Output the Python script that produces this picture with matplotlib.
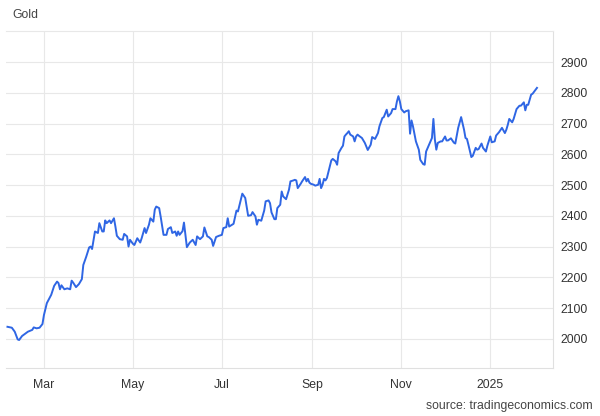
import numpy as np
import matplotlib
matplotlib.use("Agg")
import matplotlib.pyplot as plt

plt.rcParams['font.family'] = ['Liberation Sans', 'DejaVu Sans']

title = "Gold"
source = "source: tradingeconomics.com"
start_date = np.datetime64('2024-03-01')

# days relative to 2024-03-01
day_offsets = [
    -25, -22, -20, -18, -17, -15, -11, -8, -7, -5, -3, -1, 0, 2, 5, 7, 9, 10, 11, 12,
    14, 16, 18, 19, 20, 22, 24, 26, 27, 29, 31, 32, 33, 35, 37, 38, 40, 41, 42, 43,
    45, 46, 48, 49, 50, 52, 54, 55, 57, 58, 59, 61, 62, 64, 66, 67, 69, 70, 72, 73,
    75, 76, 77, 79, 80, 82, 84, 85, 87, 88, 90, 91, 92, 93, 95, 96, 98, 100, 102, 104,
    105, 107, 109, 110, 112, 113, 115, 116, 118, 120, 122, 123, 125, 126, 127, 130, 132, 133, 134, 136,
    138, 139, 140, 142, 143, 145, 146, 147, 149, 151, 152, 154, 155, 156, 158, 159, 160, 162, 163, 164,
    166, 168, 169, 171, 172, 173, 174, 176, 177, 179, 180, 181, 182, 183, 185, 186, 188, 189, 190, 191,
    192, 193, 194, 196, 197, 198, 200, 201, 202, 204, 205, 206, 207, 208, 209, 210, 212, 213, 214, 215,
    216, 218, 220, 222, 224, 225, 227, 229, 230, 232, 233, 235, 236, 238, 239, 241, 242, 243, 244, 245,
    247, 248, 250, 251, 252, 253, 255, 257, 258, 260, 261, 262, 264, 266, 267, 268, 269, 270, 272, 273,
    275, 276, 277, 279, 281, 282, 284, 286, 288, 289, 290, 291, 293, 294, 296, 297, 298, 300, 301, 303,
    304, 306, 307, 309, 310, 312, 314, 316, 317, 318, 319, 321, 322, 324, 326, 327, 329, 330, 331, 332,
    334, 335, 337, 338,
]

prices = [
    2039, 2036, 2023, 1998, 1996, 2009, 2023, 2029, 2037, 2034, 2036, 2048, 2077, 2116, 2143, 2172, 2186, 2181, 2161, 2174,
    2161, 2164, 2161, 2189, 2183, 2168, 2178, 2194, 2240, 2267, 2297, 2300, 2292, 2349, 2344, 2376, 2349, 2349, 2385, 2376,
    2385, 2376, 2392, 2365, 2335, 2324, 2322, 2341, 2333, 2300, 2322, 2309, 2305, 2327, 2313, 2327, 2360, 2344, 2371, 2392,
    2381, 2420, 2430, 2425, 2398, 2338, 2338, 2357, 2363, 2344, 2349, 2335, 2349, 2338, 2350, 2378, 2298, 2313, 2322, 2305,
    2333, 2324, 2333, 2362, 2333, 2331, 2322, 2302, 2331, 2335, 2338, 2360, 2363, 2392, 2365, 2374, 2417, 2414, 2433, 2472,
    2458, 2430, 2400, 2402, 2412, 2398, 2371, 2387, 2384, 2417, 2447, 2450, 2441, 2411, 2389, 2389, 2425, 2436, 2479, 2463,
    2454, 2485, 2512, 2515, 2517, 2515, 2490, 2504, 2512, 2526, 2512, 2520, 2508, 2504, 2501, 2498, 2501, 2520, 2490, 2501,
    2520, 2515, 2523, 2561, 2580, 2585, 2577, 2566, 2604, 2621, 2628, 2658, 2664, 2669, 2675, 2664, 2658, 2642, 2658, 2664,
    2660, 2653, 2637, 2614, 2631, 2656, 2650, 2669, 2691, 2718, 2721, 2745, 2723, 2734, 2747, 2747, 2772, 2789, 2772, 2747,
    2736, 2740, 2743, 2667, 2710, 2691, 2642, 2615, 2582, 2568, 2566, 2609, 2631, 2653, 2715, 2648, 2615, 2637, 2642, 2642,
    2658, 2645, 2645, 2652, 2638, 2635, 2686, 2721, 2680, 2653, 2650, 2631, 2591, 2595, 2621, 2615, 2617, 2635, 2621, 2609,
    2628, 2658, 2639, 2642, 2661, 2672, 2686, 2669, 2680, 2696, 2715, 2704, 2715, 2747, 2758, 2758, 2769, 2743, 2761, 2761,
    2794, 2797, 2810, 2816,
]

tick_dates = ['2024-03-01', '2024-05-01', '2024-07-01', '2024-09-01', '2024-11-01', '2025-01-01']
tick_labels = ['Mar', 'May', 'Jul', 'Sep', 'Nov', '2025']
y_ticks = [2000, 2100, 2200, 2300, 2400, 2500, 2600, 2700, 2800, 2900]

dates = start_date + np.array(day_offsets).astype('timedelta64[D]')

fig = plt.figure(figsize=(6.0, 4.16), dpi=100)
ax = fig.add_axes([0.01, 0.1154, 0.9117, 0.8101])

ax.plot(dates, prices, color='#2f66e4', linewidth=1.4, solid_joinstyle='round', zorder=3)

ax.set_ylim(1905, 3001)
ax.set_xlim(np.datetime64('2024-02-04'), np.datetime64('2025-02-13'))

ax.set_yticks(y_ticks)
ax.set_yticklabels([str(v) for v in y_ticks])
ax.yaxis.tick_right()
ax.set_xticks([np.datetime64(d) for d in tick_dates])
ax.set_xticklabels(tick_labels)

ax.grid(True, color='#e8e8e8', linewidth=0.8, zorder=0)
ax.tick_params(axis='both', length=0, labelsize=8.8, colors='#333333')
ax.tick_params(axis='y', pad=5)
ax.tick_params(axis='x', pad=8)

ax.spines['left'].set_visible(False)
ax.spines['top'].set_color('#e8e8e8')
ax.spines['bottom'].set_color('#e0e0e0')
ax.spines['right'].set_color('#e0e0e0')
for s in ax.spines.values():
    s.set_linewidth(0.8)

fig.text(0.02, 0.963, title, fontsize=8.8, color='#444444', ha='left', va='center')
fig.text(0.988, 0.025, source, fontsize=8.8, color='#444444', ha='right', va='center')

fig.savefig('out.png', dpi=100)
